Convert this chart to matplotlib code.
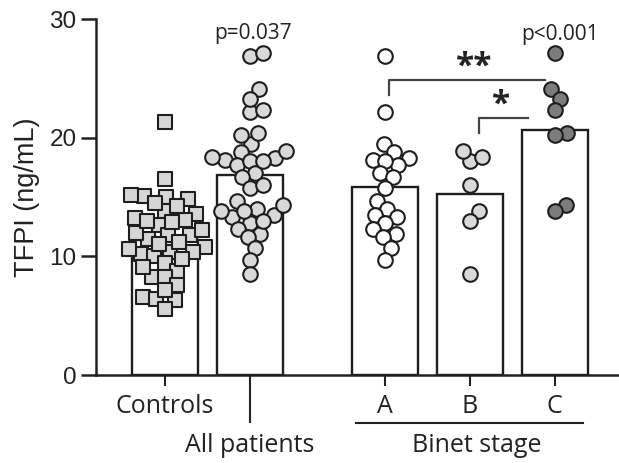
import numpy as np
import matplotlib.pyplot as plt

# TFPI values (ng/mL)
controls = [21.3, 16.5, 15.0, 15.1, 15.2, 13.6, 13.8, 13.1, 13.2, 12.6,
            11.8, 11.8, 11.5, 10.8, 10.4, 10.4, 10.2, 10.0, 9.4, 8.8,
            8.3, 8.3, 9.1, 7.6, 6.6, 6.4, 6.3, 5.6, 14.8, 14.2,
            12.9, 12.2, 11.2, 11.0, 14.5, 12.0, 9.8, 7.2, 10.6, 13.0]
binet_a = [26.9, 22.2, 19.5, 18.8, 18.3, 18.1, 17.7, 18.0, 17.0, 16.7, 15.8,
           14.7, 14.0, 13.5, 13.3, 12.8, 12.3, 11.9, 11.6, 10.7, 9.7]
binet_b = [18.0, 18.4, 18.9, 16.0, 13.8, 13.0, 8.5]
binet_c = [27.1, 24.1, 23.3, 22.3, 20.4, 20.2, 14.3, 13.8]
all_patients = binet_a + binet_b + binet_c

groups = [controls, all_patients, binet_a, binet_b, binet_c]
tick_labels = ['Controls', 'All patients', 'A', 'B', 'C']
yticks = [0, 10, 20, 30]
p_labels = ['p=0.037', 'p<0.001']

# layout / style
xpos = [0, 1, 2.6, 3.6, 4.6]
faces = ['#d6d6d6', '#d9d9d9', '#ffffff', '#d9d9d9', '#7c7c7c']
markers = ['s', 'o', 'o', 'o', 'o']
edge = '#1e1e1e'
ink = '#222222'
label_font = 'Open Sans'
num_font = 'Liberation Sans'

W, H = 619, 463
fig = plt.figure(figsize=(W / 100, H / 100), dpi=100)
ax = fig.add_axes([96 / W, 88 / H, (W - 96) / W, 356 / H])
ax.set_xlim(-0.815, 5.36)
ax.set_ylim(0, 30)

# pixel scale of the axes, used for the beeswarm layout
px_x = (W - 96) / (5.36 + 0.815)
px_y = 356 / 30


def swarm(vals, d):
    vals = np.asarray(vals, float)
    order = np.argsort(vals)
    placed = []
    off = np.zeros(len(vals))
    for i in order:
        y = vals[i] * px_y
        cands = [0.0]
        for px, py in placed:
            dy = y - py
            if abs(dy) < d:
                dx = np.sqrt(d * d - dy * dy)
                cands += [px + dx, px - dx]
        cands.sort(key=abs)
        for c in cands:
            if all((c - px) ** 2 + (y - py) ** 2 >= d * d - 1e-6 for px, py in placed):
                break
        placed.append((c, y))
        off[i] = c
    return off / px_x


means = [np.mean(g) for g in groups]
ax.bar(xpos, means, width=0.78, facecolor='white', edgecolor=edge,
       linewidth=1.7, zorder=1)

for g, x0, fc, m in zip(groups, xpos, faces, markers):
    xs = x0 + swarm(g, 13.0)
    ax.scatter(xs, g, s=10.5 ** 2, marker=m, facecolor=fc, edgecolor=edge,
               linewidth=1.5, zorder=3, clip_on=False)

# axes styling
for s in ['top', 'right']:
    ax.spines[s].set_visible(False)
for s in ['left', 'bottom']:
    ax.spines[s].set_linewidth(1.8)
    ax.spines[s].set_color(ink)

ax.set_yticks(yticks, [str(v) for v in yticks], family=num_font, fontsize=17.5)
ax.tick_params(axis='y', length=10.5, width=1.8, pad=3.5, colors=ink)
ax.set_ylabel('TFPI (ng/mL)', family=num_font, fontsize=19.5, labelpad=7,
              color=ink)

major = [xpos[0]] + xpos[2:]
ax.set_xticks(major, [tick_labels[0]] + tick_labels[2:], family=label_font,
              fontsize=18)
ax.set_xticks([xpos[1]], minor=True)
ax.tick_params(axis='x', which='major', length=8, width=1.5, pad=6,
               colors=ink)
ax.tick_params(axis='x', which='minor', length=34.5, width=1.5, colors=ink)

trans = ax.get_xaxis_transform()
ax.text(xpos[1], -0.197, tick_labels[1], transform=trans, ha='center',
        va='center', family=label_font, fontsize=18, color=ink)
ax.plot([xpos[2] - 0.34, xpos[4] + 0.33], [-0.135, -0.135], transform=trans,
        color=ink, lw=1.5, clip_on=False)
ax.text((xpos[2] + xpos[4]) / 2 + 0.08, -0.197, 'Binet stage', transform=trans,
        ha='center', va='center', family=label_font, fontsize=18, color=ink)

# p-values
ax.text(xpos[1] + 0.04, 28.3, p_labels[0], ha='center', va='baseline',
        family=label_font, fontsize=15, color=ink)
ax.text(xpos[4] + 0.06, 28.2, p_labels[1], ha='center', va='baseline',
        family=label_font, fontsize=15, color=ink)

# significance brackets
ax.plot([xpos[2] + 0.05, xpos[2] + 0.05, xpos[4] - 0.11],
        [23.6, 24.85, 24.85], color='#444444', lw=1.6)
ax.text(3.65, 25.2, '**', ha='center', va='baseline', family=label_font,
        fontsize=24, fontweight='bold', color=ink)
ax.plot([xpos[3] + 0.11, xpos[3] + 0.11, xpos[4] - 0.31],
        [20.4, 21.65, 21.65], color='#444444', lw=1.6)
ax.text(3.97, 22.0, '*', ha='center', va='baseline', family=label_font,
        fontsize=24, fontweight='bold', color=ink)

fig.savefig('out.png', dpi=100)
